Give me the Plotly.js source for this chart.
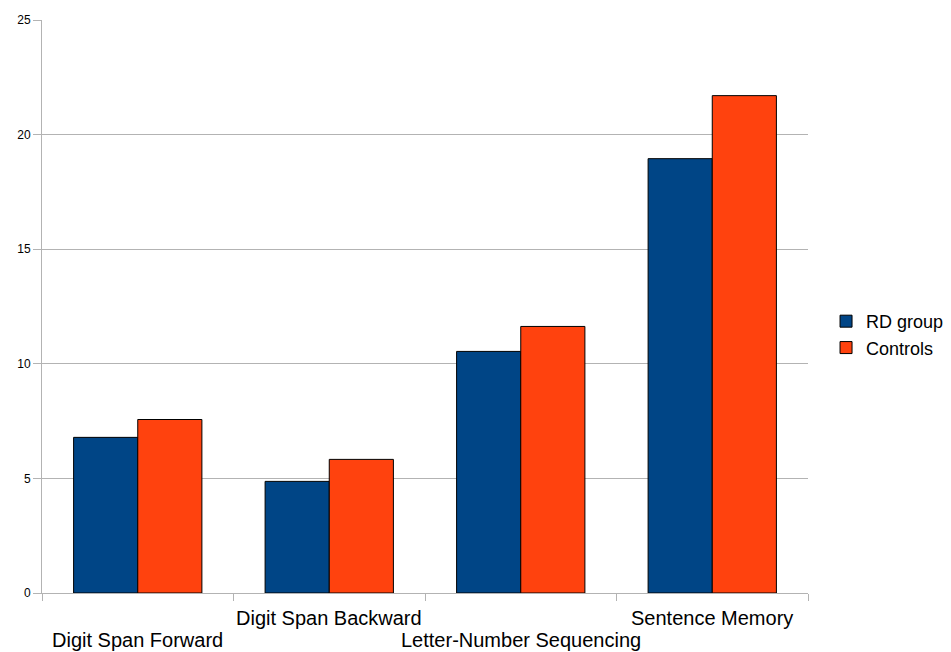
<!DOCTYPE html>
<html>
<head>
<meta charset="utf-8">
<script src="https://cdn.plot.ly/plotly-3.0.1.min.js"></script>
<style>
  html, body { margin: 0; padding: 0; background: #ffffff; }
  #chart { width: 951px; height: 652px; }
</style>
</head>
<body>
<div id="chart"></div>
<script>
// Working-memory subtest scores, RD group vs. controls
const categories = ["Digit Span Forward", "Digit Span Backward", "Letter-Number Sequencing", "Sentence Memory"];
const rdGroup = [6.79, 4.87, 10.54, 18.95];
const controls = [7.57, 5.83, 11.63, 21.70];
const seriesNames = ["RD group", "Controls"];
const yTicks = [0, 5, 10, 15, 20, 25];

const FONT = "Liberation Sans, Arial, sans-serif";

const traces = [
  {
    type: "bar", name: seriesNames[0], x: categories, y: rdGroup,
    marker: { color: "#004586", line: { color: "#000000", width: 1 } },
    hoverinfo: "x+y+name"
  },
  {
    type: "bar", name: seriesNames[1], x: categories, y: controls,
    marker: { color: "#ff420e", line: { color: "#000000", width: 1 } },
    hoverinfo: "x+y+name"
  }
];

// Category names below the axis, staggered on two rows so the long names don't collide
const categoryLabels = categories.map((c, i) => ({
  text: c, x: c, xref: "x", y: 0, yref: "paper",
  xanchor: "center", yanchor: "top",
  yshift: i % 2 === 0 ? -34 : -12,
  showarrow: false,
  font: { family: FONT, size: 20, color: "#000000" }
}));

const layout = {
  width: 951, height: 652,
  margin: { l: 42, r: 143, t: 20, b: 59 },
  paper_bgcolor: "#ffffff", plot_bgcolor: "#ffffff",
  font: { family: FONT, color: "#000000", size: 18 },
  barmode: "group", bargap: 0.33, bargroupgap: 0,
  showlegend: true,
  legend: {
    xref: "container", yref: "container",
    x: 0.8686, xanchor: "left", y: 0.487, yanchor: "middle",
    font: { family: FONT, size: 18, color: "#000000" },
    bgcolor: "rgba(0,0,0,0)", tracegroupgap: 0
  },
  annotations: categoryLabels,
  xaxis: {
    type: "category", categoryorder: "array", categoryarray: categories,
    showticklabels: false, automargin: false,
    tickson: "boundaries", ticks: "outside", ticklen: 7, tickcolor: "#b3b3b3", tickwidth: 1,
    showgrid: false, showline: true, linecolor: "#b3b3b3", linewidth: 1,
    zeroline: false, fixedrange: true
  },
  yaxis: {
    range: [0, 25], tickmode: "array", tickvals: yTicks, automargin: false,
    ticks: "outside", ticklen: 8, tickcolor: "#b3b3b3", tickwidth: 1,
    showgrid: true, gridcolor: "#b3b3b3", gridwidth: 1,
    showline: true, linecolor: "#b3b3b3", linewidth: 1,
    zeroline: false,
    tickfont: { family: FONT, size: 12, color: "#000000" },
    fixedrange: true
  }
};

Plotly.newPlot("chart", traces, layout, { displayModeBar: false, staticPlot: true });
</script>
</body>
</html>
